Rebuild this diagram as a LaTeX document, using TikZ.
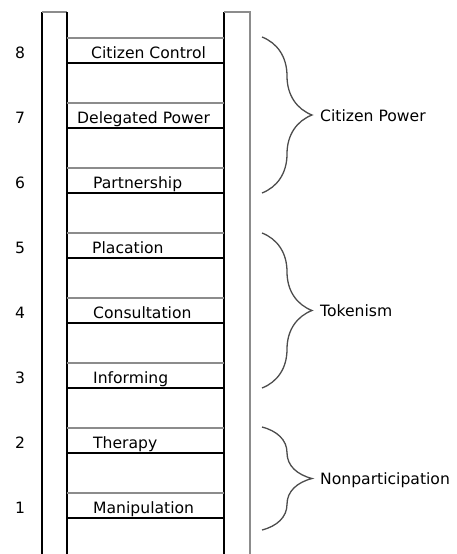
\documentclass[tikz,border=0pt]{standalone}
\usepackage{fontspec}
\setmainfont{DejaVu Sans}
\usetikzlibrary{positioning}
\usetikzlibrary{decorations.pathreplacing}

\begin{document}
\begin{tikzpicture}[x=1pt,y=-1pt,
        every node/.style={font=\fontsize{15.6}{18}\selectfont,inner sep=0pt},
        greyline/.style={draw=black!45,line width=1.5pt},
        darkline/.style={draw=black,line width=2pt},
        curly/.style={decorate,decoration={brace,amplitude=50pt,aspect=0.5},
            draw=black!70,line width=1.3pt}]
        \useasboundingbox (0,0) rectangle (457,554);
        % the two rails
        \draw[darkline] (42,556) -- (42,12);
        \draw[greyline] (42,12) -- (67,12);
        \draw[darkline] (67,12) -- (67,556);
        \draw[darkline] (224,556) -- (224,12);
        \draw[greyline] (224,12) -- (250,12) -- (250,556);
        % rungs, top to bottom
        \foreach \i/\x/\name in {8/91/Citizen Control,7/77/Delegated Power,
                6/93/Partnership,5/92/Placation,4/93/Consultation,
                3/93/Informing,2/93/Therapy,1/93/Manipulation} {
            \pgfmathsetmacro\y{38+(8-\i)*65}
            \draw[greyline] (67,\y) -- (224,\y);
            \draw[darkline] (67,\y+25) -- (224,\y+25);
            \node[anchor=base west] (rung\i) at (\x,\y+20) {\name};
            \node[anchor=base] (num\i) at (20,\y+20) {\i};
        }
        % groups
        \foreach \top/\bot/\name/\group in {37/193/power/Citizen Power,
                233/388/token/Tokenism,427/530/nonpart/Nonparticipation} {
            \coordinate (\name top) at (262,\top);
            \coordinate (\name bot) at (262,\bot);
            \draw[curly] (\name top) -- (\name bot);
            \node[anchor=base west] (\name) at (320,{(\top+\bot)/2+6}) {\group};
        }
    \end{tikzpicture}
\end{document}
